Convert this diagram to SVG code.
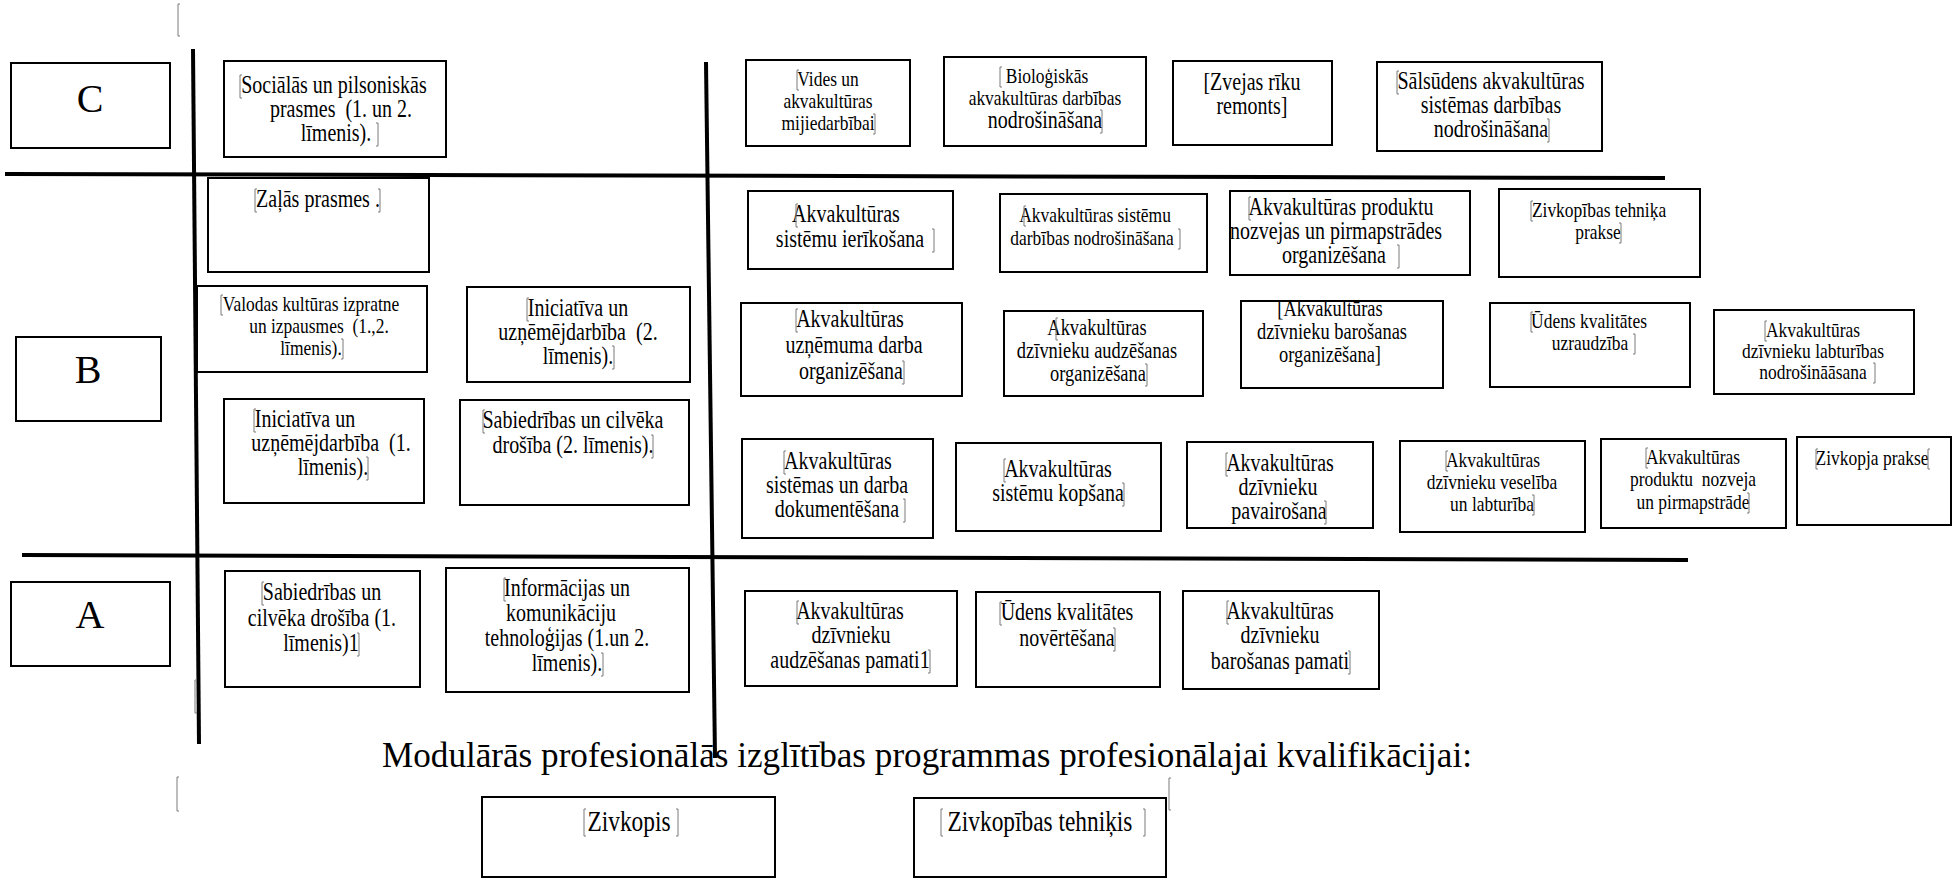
<svg xmlns="http://www.w3.org/2000/svg" width="1953" height="879" viewBox="0 0 1953 879" xml:space="preserve">
<style>
.bx{fill:#fff;stroke:#000;stroke-width:2}
.f{font-family:"Liberation Serif","Times New Roman",serif;fill:#000;text-anchor:middle}
.t{font-family:"Liberation Serif","Times New Roman",serif;fill:#000;text-anchor:middle;font-size:24.4px;transform-box:fill-box;transform-origin:50% 50%;transform:scaleX(0.82)}
.s{font-size:21.3px}
.m{font-size:22.5px}
.z{font-size:28.5px}
.big{font-size:40px}
.mk{fill:none;stroke:#7a7a7a;stroke-width:1}
.ln{fill:none;stroke:#000;stroke-width:4}
</style>
<rect width="1953" height="879" fill="#fff"/>
<g id="connectors">
<line class="ln" x1="193" y1="49" x2="199" y2="744"/>
<line class="ln" x1="706" y1="62" x2="715" y2="758"/>
<line class="ln" x1="5" y1="174" x2="1665" y2="178"/>
<line class="ln" x1="22" y1="555" x2="1688" y2="560"/>
</g>
<g id="marks">
<path class="mk" d="M180,4H178V36H180M197,680H195V713H197M179,777H177V811H179M1171,778H1169V810H1171"/>
</g>
<g id="lvlC"><rect class="bx" x="11" y="63" width="159" height="85"/><text class="f big" x="90" y="112">C</text></g>
<g id="lvlB"><rect class="bx" x="16" y="337" width="145" height="84"/><text class="f big" x="88" y="383">B</text></g>
<g id="lvlA"><rect class="bx" x="11" y="582" width="159" height="84"/><text class="f big" x="90" y="628">A</text></g>
<g id="socialas"><rect class="bx" x="224" y="61" width="222" height="96"/>
<text class="t" x="334" y="93">Sociālās un pilsoniskās</text>
<text class="t" x="341" y="117">prasmes &#160;(1. un 2.</text>
<text class="t" x="336" y="141">līmenis).</text>
<path class="mk" d="M242,75H240V98H242M376,123H378V146H376"/></g>
<g id="zalas"><rect class="bx" x="208" y="178" width="221" height="94"/>
<text class="t" x="318" y="207">Zaļās prasmes .</text>
<path class="mk" d="M257,189H255V212H257M378,189H380V212H378"/></g>
<g id="valodas"><rect class="bx" x="197" y="286" width="230" height="86"/>
<text class="t s" x="311" y="311">Valodas kultūras izpratne</text>
<text class="t s" x="319" y="333">un izpausmes &#160;(1.,2.</text>
<text class="t s" x="311" y="355">līmenis).</text>
<path class="mk" d="M223,295H221V315H223M341,339H343V359H341"/></g>
<g id="iniciativa2"><rect class="bx" x="467" y="287" width="223" height="95"/>
<text class="t" x="578" y="316">Iniciatīva un</text>
<text class="t" x="578" y="340">uzņēmējdarbība &#160;(2.</text>
<text class="t" x="578" y="364">līmenis).</text>
<path class="mk" d="M529,298H527V321H529M612,346H614V369H612"/></g>
<g id="iniciativa1"><rect class="bx" x="224" y="399" width="200" height="104"/>
<text class="t" x="305" y="427">Iniciatīva un</text>
<text class="t" x="331" y="451">uzņēmējdarbība &#160;(1.</text>
<text class="t" x="333" y="475">līmenis).</text>
<path class="mk" d="M256,409H254V432H256M366,457H368V480H366"/></g>
<g id="sabiedribas2"><rect class="bx" x="460" y="400" width="229" height="105"/>
<text class="t" x="573" y="428">Sabiedrības un cilvēka</text>
<text class="t" x="573" y="453">drošība (2. līmenis).</text>
<path class="mk" d="M485,410H483V433H485M651,435H653V458H651"/></g>
<g id="sabiedribas1"><rect class="bx" x="225" y="571" width="195" height="116"/>
<text class="t" x="322" y="600">Sabiedrības un</text>
<text class="t" x="322" y="626">cilvēka drošība (1.</text>
<text class="t" x="321" y="651">līmenis)1</text>
<path class="mk" d="M264,582H262V605H264M357,633H359V656H357"/></g>
<g id="informacijas"><rect class="bx" x="446" y="568" width="243" height="124"/>
<text class="t" x="567" y="596">Informācijas un</text>
<text class="t" x="561" y="621">komunikāciju</text>
<text class="t" x="567" y="646">tehnoloģijas (1.un 2.</text>
<text class="t" x="567" y="671">līmenis).</text>
<path class="mk" d="M506,578H504V601H506M601,653H603V676H601"/></g>
<g id="vides"><rect class="bx" x="746" y="60" width="164" height="86"/>
<text class="t s" x="828" y="86">Vides un</text>
<text class="t s" x="828" y="108">akvakultūras</text>
<text class="t s" x="828" y="130">mijiedarbībai</text>
<path class="mk" d="M799,70H797V90H799M873,114H875V134H873"/></g>
<g id="biologiskas"><rect class="bx" x="944" y="57" width="202" height="89"/>
<text class="t s" x="1047" y="83">Bioloģiskās</text>
<text class="t s" x="1045" y="105">akvakultūras darbības</text>
<text class="t" x="1045" y="128">nodrošināšana</text>
<path class="mk" d="M1002,67H1000V87H1002M1100,110H1102V133H1100"/></g>
<g id="zvejas"><rect class="bx" x="1173" y="61" width="159" height="84"/>
<text class="t" x="1252" y="90">[Zvejas rīku</text>
<text class="t" x="1252" y="114">remonts]</text></g>
<g id="salsudens"><rect class="bx" x="1377" y="62" width="225" height="89"/>
<text class="t" x="1491" y="89">Sālsūdens akvakultūras</text>
<text class="t" x="1491" y="113">sistēmas darbības</text>
<text class="t" x="1491" y="137">nodrošināšana</text>
<path class="mk" d="M1399,71H1397V94H1399M1547,119H1549V142H1547"/></g>
<g id="ierikosana"><rect class="bx" x="748" y="191" width="205" height="78"/>
<text class="t" x="846" y="222">Akvakultūras</text>
<text class="t" x="850" y="247">sistēmu ierīkošana</text>
<path class="mk" d="M798,204H796V227H798M932,229H934V252H932"/></g>
<g id="darbibasnodr"><rect class="bx" x="1000" y="194" width="207" height="78"/>
<text class="t s" x="1095" y="222">Akvakultūras sistēmu</text>
<text class="t s" x="1092" y="245">darbības nodrošināšana</text>
<path class="mk" d="M1026,206H1024V226H1026M1178,229H1180V249H1178"/></g>
<g id="produktuorg"><rect class="bx" x="1230" y="191" width="240" height="84"/>
<text class="t" x="1341" y="215">Akvakultūras produktu</text>
<text class="t" x="1336" y="239">nozvejas un pirmapstrādes</text>
<text class="t" x="1334" y="263">organizēšana</text>
<path class="mk" d="M1251,197H1249V220H1251M1397,245H1399V268H1397"/></g>
<g id="tehnikaprakse"><rect class="bx" x="1499" y="189" width="201" height="88"/>
<text class="t s" x="1599" y="217">Zivkopības tehniķa</text>
<text class="t s" x="1598" y="239">prakse</text>
<path class="mk" d="M1533,201H1531V221H1533M1619,223H1621V243H1619"/></g>
<g id="uznemums"><rect class="bx" x="741" y="303" width="221" height="93"/>
<text class="t" x="850" y="327">Akvakultūras</text>
<text class="t" x="854" y="353">uzņēmuma darba</text>
<text class="t" x="851" y="379">organizēšana</text>
<path class="mk" d="M798,309H796V332H798M902,361H904V384H902"/></g>
<g id="audzorg"><rect class="bx" x="1004" y="311" width="199" height="85"/>
<text class="t m" x="1097" y="335">Akvakultūras</text>
<text class="t m" x="1097" y="358">dzīvnieku audzēšanas</text>
<text class="t m" x="1098" y="381">organizēšana</text>
<path class="mk" d="M1058,318H1056V340H1058M1145,364H1147V386H1145"/></g>
<g id="barosorg"><rect class="bx" x="1241" y="301" width="202" height="87"/>
<text class="t m" x="1330" y="316">[Akvakultūras</text>
<text class="t m" x="1332" y="339">dzīvnieku barošanas</text>
<text class="t m" x="1330" y="362">organizēšana]</text></g>
<g id="udensuzr"><rect class="bx" x="1490" y="303" width="200" height="84"/>
<text class="t s" x="1589" y="328">Ūdens kvalitātes</text>
<text class="t s" x="1590" y="350">uzraudzība</text>
<path class="mk" d="M1533,312H1531V332H1533M1633,334H1635V354H1633"/></g>
<g id="labturibas"><rect class="bx" x="1714" y="310" width="200" height="84"/>
<text class="t s" x="1813" y="337">Akvakultūras</text>
<text class="t s" x="1813" y="358">dzīvnieku labturības</text>
<text class="t s" x="1813" y="379">nodrošināāsana</text>
<path class="mk" d="M1767,321H1765V341H1767M1873,363H1875V383H1873"/></g>
<g id="dokumentesana"><rect class="bx" x="742" y="439" width="191" height="99"/>
<text class="t" x="838" y="469">Akvakultūras</text>
<text class="t" x="837" y="493">sistēmas un darba</text>
<text class="t" x="837" y="517">dokumentēšana</text>
<path class="mk" d="M786,451H784V474H786M903,499H905V522H903"/></g>
<g id="kopsana"><rect class="bx" x="956" y="443" width="205" height="88"/>
<text class="t" x="1058" y="477">Akvakultūras</text>
<text class="t" x="1058" y="501">sistēmu kopšana</text>
<path class="mk" d="M1006,459H1004V482H1006M1122,483H1124V506H1122"/></g>
<g id="pavairosana"><rect class="bx" x="1187" y="442" width="186" height="86"/>
<text class="t" x="1280" y="471">Akvakultūras</text>
<text class="t" x="1278" y="495">dzīvnieku</text>
<text class="t" x="1279" y="519">pavairošana</text>
<path class="mk" d="M1228,453H1226V476H1228M1324,501H1326V524H1324"/></g>
<g id="veseliba"><rect class="bx" x="1400" y="441" width="185" height="91"/>
<text class="t s" x="1493" y="467">Akvakultūras</text>
<text class="t s" x="1492" y="489">dzīvnieku veselība</text>
<text class="t s" x="1492" y="511">un labturība</text>
<path class="mk" d="M1448,451H1446V471H1448M1532,495H1534V515H1532"/></g>
<g id="nozveja"><rect class="bx" x="1601" y="439" width="185" height="89"/>
<text class="t s" x="1693" y="464">Akvakultūras</text>
<text class="t s" x="1693" y="486">produktu &#160;nozveja</text>
<text class="t s" x="1693" y="509">un pirmapstrāde</text>
<path class="mk" d="M1648,448H1646V468H1648M1747,493H1749V513H1747"/></g>
<g id="zivkopjaprakse"><rect class="bx" x="1797" y="437" width="154" height="88"/>
<text class="t s" x="1872" y="465">Zivkopja prakse</text>
<path class="mk" d="M1818,449H1816V469H1818M1930,449H1928V469H1930"/></g>
<g id="audzpamati"><rect class="bx" x="745" y="591" width="212" height="95"/>
<text class="t" x="850" y="619">Akvakultūras</text>
<text class="t" x="851" y="643">dzīvnieku</text>
<text class="t" x="850" y="668">audzēšanas pamati1</text>
<path class="mk" d="M799,601H797V624H799M928,650H930V673H928"/></g>
<g id="novertesana"><rect class="bx" x="976" y="592" width="184" height="95"/>
<text class="t" x="1067" y="620">Ūdens kvalitātes</text>
<text class="t" x="1067" y="646">novērtēšana</text>
<path class="mk" d="M1002,602H1000V625H1002M1113,628H1115V651H1113"/></g>
<g id="barpamati"><rect class="bx" x="1183" y="591" width="196" height="98"/>
<text class="t" x="1280" y="619">Akvakultūras</text>
<text class="t" x="1280" y="643">dzīvnieku</text>
<text class="t" x="1280" y="669">barošanas pamati</text>
<path class="mk" d="M1229,601H1227V624H1229M1348,651H1350V674H1348"/></g>
<g id="title"><text class="f" x="382" y="767" style="font-size:35px;text-anchor:start" textLength="1090" lengthAdjust="spacingAndGlyphs">Modulārās profesionālās izglītības programmas profesionālajai kvalifikācijai:</text></g>
<g id="zivkopis"><rect class="bx" x="482" y="797" width="293" height="80"/>
<text class="t z" x="629" y="831">Zivkopis</text>
<path class="mk" d="M586,809H584V836H586M676,809H678V836H676"/></g>
<g id="tehnikis"><rect class="bx" x="914" y="798" width="252" height="79"/>
<text class="t z" x="1040" y="831">Zivkopības tehniķis</text>
<path class="mk" d="M943,809H941V836H943M1143,809H1145V836H1143"/></g>
</svg>
